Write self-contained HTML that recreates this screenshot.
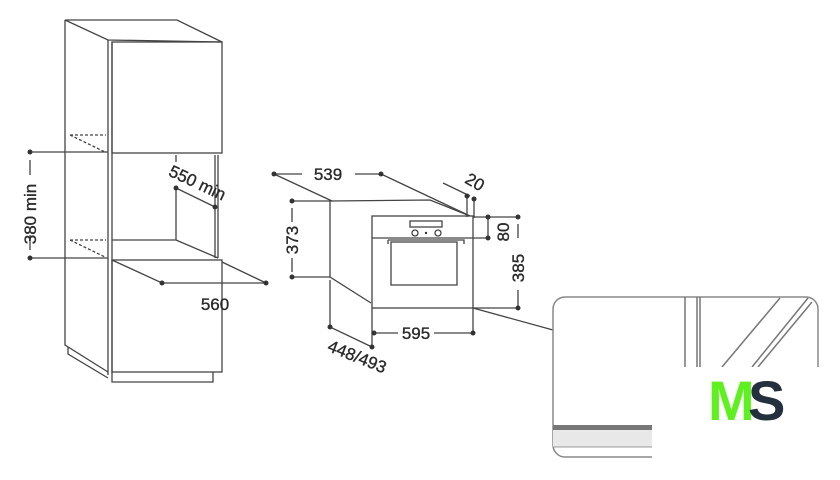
<!DOCTYPE html>
<html><head><style>
html,body{margin:0;padding:0;background:#fff;width:840px;height:480px;overflow:hidden}
svg{display:block}
text{font-family:"Liberation Sans",Arial,sans-serif;fill:#2a2a2a;font-size:17px;stroke:#2a2a2a;stroke-width:0.35}
</style></head><body>
<svg width="840" height="480" viewBox="0 0 840 480" xmlns="http://www.w3.org/2000/svg">
<g stroke="#444" stroke-width="1.3" fill="none">
<path d="M65,20 L177,20 L222,42 M65,20 L108,40 L222,42 M65,20 L65,345 L108,372"/>
<path d="M108,40 L108,375 M112,42 L112,382 L213,382 L213,372"/>
<path d="M68,347 L68,354 L108,378"/>
<rect x="112" y="42" width="110" height="111"/>
<rect x="112" y="260" width="110" height="112"/>
<path d="M176,155 L176,162 M176,187 L176,240 L112,240 M176,240 L218,258 M215,155 L215,258 M218,155 L218,258"/>
<path d="M70,135 L106,135 M70,135 L105,152 M70,240 L106,240 M70,240 L105,257" stroke-dasharray="3,2"/>
<path d="M30,152 L108,152 M30,258 L108,258 M30,160 L30,175 M30,235 L30,250"/>
<path d="M176,188 L215,207"/>
<path d="M112,260 L162,283 L266,283 M222,262 L266,283"/>
<path d="M274,174 L302,174 M355,174 L381,174 M274,174 L332,201 M381,174 L470,216"/>
<path d="M330,201 L430,200 L470,216 M330,201 L330,277 L371,303 M330,280 L330,327 L372,347"/>
<path d="M443,183 L470,196 M467,196 L467,217 M474,199 L474,218"/>
<rect x="372" y="216" width="101" height="92"/>
<path d="M372,238 L473,238"/>
<rect x="410" y="221" width="32" height="6"/>
<path d="M388,240 L464,240 L464,244 M388,240 L388,244"/>
<rect x="391" y="242" width="66" height="43"/>
<circle cx="415" cy="233" r="3"/><circle cx="438" cy="233" r="3"/>
<path d="M292,201 L330,201 M292,277 L330,277 M292,208 L292,222 M292,258 L292,272"/>
<path d="M473,217 L518,217 M473,238 L488,238 M488,217 L488,238 M518,224 L518,238 M518,290 L518,308 M473,308 L518,308"/>
<path d="M473,308 L553,330"/>
<path d="M372,308 L372,347 M473,308 L473,333 M374,333 L398,333 M434,333 L473,333"/>
</g>
<g fill="#333">
<circle cx="30" cy="152" r="2.5"/><circle cx="30" cy="258" r="2.5"/>
<circle cx="176" cy="188" r="2.5"/><circle cx="215" cy="207" r="2.5"/>
<circle cx="162" cy="283" r="2.5"/><circle cx="266" cy="283" r="2.5"/>
<circle cx="274" cy="174" r="2.5"/><circle cx="381" cy="174" r="2.5"/>
<circle cx="467" cy="196" r="2.5"/><circle cx="474" cy="199" r="2.5"/>
<circle cx="292" cy="201" r="2.5"/><circle cx="292" cy="277" r="2.5"/>
<circle cx="488" cy="217" r="2.5"/><circle cx="488" cy="238" r="2.5"/>
<circle cx="518" cy="217" r="2.5"/><circle cx="518" cy="308" r="2.5"/>
<circle cx="374" cy="333" r="2.5"/><circle cx="473" cy="333" r="2.5"/>
<circle cx="330" cy="327" r="2.5"/><circle cx="372" cy="347" r="2.5"/>
<circle cx="426" cy="233" r="1.2"/>
</g>
<text transform="translate(36,214) rotate(-90)" text-anchor="middle">380 min</text>
<text transform="translate(195,188) rotate(25)" text-anchor="middle">550 min</text>
<text x="215" y="310" text-anchor="middle">560</text>
<text x="328" y="180" text-anchor="middle">539</text>
<text transform="translate(472,187) rotate(30)" text-anchor="middle">20</text>
<text transform="translate(298,240) rotate(-90)" text-anchor="middle">373</text>
<text transform="translate(509,232) rotate(-90)" text-anchor="middle">80</text>
<text transform="translate(524,268) rotate(-90)" text-anchor="middle">385</text>
<text x="416" y="339" text-anchor="middle">595</text>
<text transform="translate(355,362) rotate(22)" text-anchor="middle">448/493</text>
<rect x="553" y="297" width="265" height="160" rx="12" fill="#fff" stroke="#888" stroke-width="1.5"/>
<rect x="553" y="425" width="100" height="5" fill="#777"/>
<rect x="553" y="430" width="100" height="17" fill="#e8e8e8"/>
<path d="M553,447 L653,447" stroke="#999"/>
<g stroke="#777" stroke-width="1.5">
<path d="M685,297 L685,367 M697,297 L697,367 M700,297 L700,367"/>
<path d="M780,298 L722,367 M808,298 L752,367 M812,302 L758,367"/>
</g>
<rect x="652" y="367" width="188" height="113" fill="#fff"/>
<text x="708" y="420" style="font-size:56px;font-weight:bold;fill:#5ef01f;stroke:none;letter-spacing:-4px">M</text>
<text x="748" y="420" style="font-size:56px;font-weight:bold;fill:#25303f;stroke:none">S</text>
</svg>
</body></html>
